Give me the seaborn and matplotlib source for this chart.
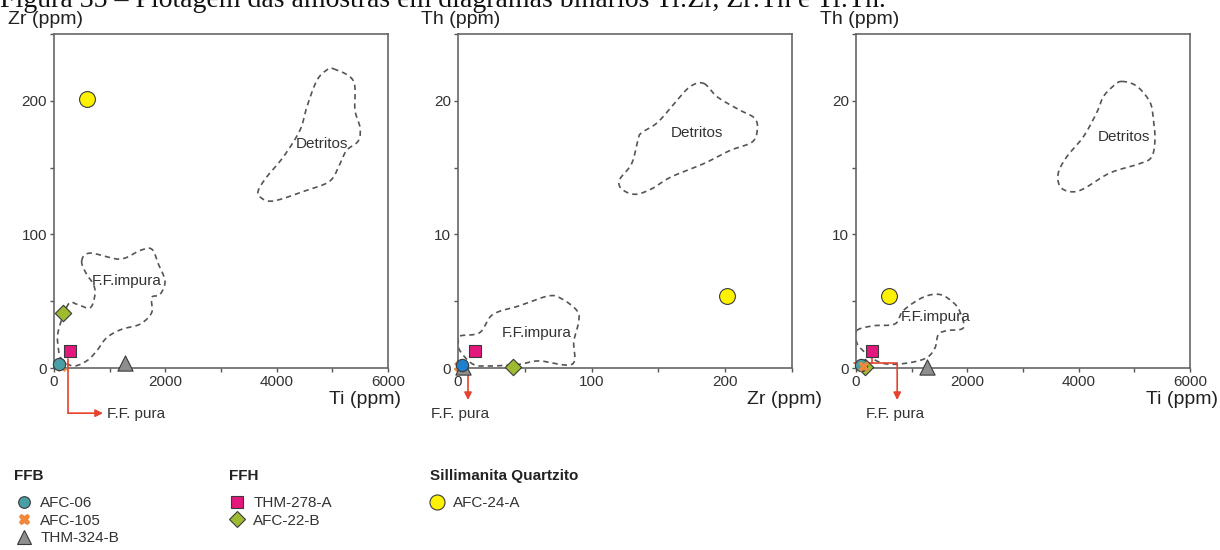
import numpy as np
import pandas as pd
import matplotlib
matplotlib.use("Agg")
import matplotlib.pyplot as plt
import seaborn as sns

# ---------------------------------------------------------------- data
samples = ["AFC-06", "AFC-105", "THM-324-B", "THM-278-A", "AFC-22-B", "AFC-24-A"]
groups = ["FFB", "FFB", "FFB", "FFH", "FFH", "Sillimanita Quartzito"]
ti_ppm = [90, 140, 1280, 290, 160, 600]
zr_ppm = [3, 1, 4, 13, 41, 201]
th_ppm = [0.2, 0.1, 0.1, 1.3, 0.1, 5.4]

# field outlines (x, y) in the units of each diagram
detritos_ti_zr = [(5018, 224), (5377, 215), (5407, 193), (5497, 180), (5467, 170),
                  (5258, 163), (5138, 153), (4958, 140), (4539, 133), (3940, 125),
                  (3701, 128), (3671, 133), (3821, 143), (4120, 158), (4419, 178),
                  (4539, 195), (4719, 215), (4898, 223)]
impura_ti_zr = [(497, 80), (647, 86), (1185, 81.5), (1545, 88), (1755, 89), (1873, 78),
                (1994, 65), (1904, 55), (1755, 52.7), (1755, 41.5), (1545, 32.8),
                (1216, 29), (947, 22.7), (767, 12.8), (587, 5.3), (347, 1.5),
                (138, 6.5), (77, 15), (77, 27.7), (257, 47.8), (408, 47.8),
                (647, 45), (736, 55), (706, 62.8), (587, 70)]
detritos_zr_th = [(184, 21.3), (194, 20.3), (209, 19.4), (222, 18.7), (224, 17.8),
                  (220, 16.9), (204, 16.3), (184, 15.3), (159.5, 14.3), (144.7, 13.4),
                  (132.4, 13.0), (122.5, 13.4), (121, 14.1), (130, 15.3), (134.8, 17.1),
                  (137.3, 17.6), (149.6, 18.4), (164.4, 20.1), (174.3, 21.1)]
impura_zr_th = [(1.5, 2.4), (16.3, 2.65), (26, 4.0), (46, 4.66), (68, 5.4), (78, 5.16),
                (89, 4.3), (90.4, 3.5), (86.7, 2.0), (85.4, 0.28), (60.7, 0.53),
                (46, 0.28), (23.7, 0.15), (11.3, 0.28), (1.5, 1.28), (0.2, 2.0)]
detritos_ti_th = [(4773, 21.45), (5042, 21.1), (5281, 19.9), (5341, 18.6), (5371, 17.1),
                  (5311, 15.8), (5101, 15.3), (4562, 14.6), (4083, 13.4), (3843, 13.2),
                  (3664, 13.6), (3634, 14.6), (3784, 15.8), (4083, 17.3), (4323, 19.1),
                  (4442, 20.3), (4622, 21.1)]
impura_ti_th = [(13, 2.8), (311, 3.16), (700, 3.3), (850, 4.3), (1209, 5.3), (1509, 5.5),
                (1748, 4.9), (1868, 4.2), (1927, 3.0), (1629, 2.8), (1479, 2.5),
                (1419, 1.5), (1270, 0.77), (970, 0.4), (611, 0.28), (371, 0.53),
                (131, 1.28), (13, 1.9)]

df = pd.DataFrame({"amostra": samples, "grupo": groups,
                   "Ti": ti_ppm, "Zr": zr_ppm, "Th": th_ppm})

# ---------------------------------------------------------------- style
sns.set_theme(style="white")
plt.rcParams["font.family"] = ["Liberation Sans", "DejaVu Sans"]

marker_style = {
    "AFC-06":    dict(marker="o", color="#4a9ea6", s=78),
    "AFC-105":   dict(marker="X", color="#f0883a", s=60),
    "THM-324-B": dict(marker="^", color="#8e8e8e", s=120),
    "THM-278-A": dict(marker="s", color="#e3177c", s=85),
    "AFC-22-B":  dict(marker="D", color="#9dbb30", s=70),
    "AFC-24-A":  dict(marker="o", color="#fff200", s=130),
}
order_below = ["AFC-105", "THM-324-B", "AFC-22-B", "THM-278-A", "AFC-06", "AFC-24-A"]
order_above = ["THM-324-B", "AFC-22-B", "THM-278-A", "AFC-06", "AFC-105", "AFC-24-A"]
RED = "#e5432d"
OUTLINE = "#555555"

W, H = 1220, 550
fig = plt.figure(figsize=(W / 100, H / 100), dpi=100)


def fx(px):
    return px / W


def fy(py):
    return 1 - py / H


def closed_curve(points, n=16):
    """Closed Catmull-Rom curve through the outline vertices."""
    p = np.asarray(points, dtype=float)
    m = len(p)
    t = np.linspace(0, 1, n, endpoint=False)[:, None]
    segs = []
    for i in range(m):
        p0, p1, p2, p3 = p[i - 1], p[i], p[(i + 1) % m], p[(i + 2) % m]
        segs.append(0.5 * (2 * p1 + (-p0 + p2) * t
                           + (2 * p0 - 5 * p1 + 4 * p2 - p3) * t ** 2
                           + (-p0 + 3 * p1 - 3 * p2 + p3) * t ** 3))
    c = np.vstack(segs + [segs[0][:1]])
    return c[:, 0], c[:, 1]


panels = [
    dict(x="Ti", y="Zr", left=54, xlim=(0, 6000), ylim=(0, 250),
         xt=range(0, 6001, 1000), xl=["0", "", "2000", "", "4000", "", "6000"],
         yt=range(0, 251, 50), yl=["0", "", "100", "", "200", ""],
         det=detritos_ti_zr, imp=impura_ti_zr,
         det_txt=(4822, 168), imp_txt=(1305, 65),
         ylab="Zr (ppm)", ylab_px=8, xlab="Ti (ppm)", xlab_px=401, fill={},
         order=order_below),
    dict(x="Zr", y="Th", left=458, xlim=(0, 250), ylim=(0, 25),
         xt=range(0, 251, 50), xl=["0", "", "100", "", "200", ""],
         yt=range(0, 26, 5), yl=["0", "", "10", "", "20", ""],
         det=detritos_zr_th, imp=impura_zr_th,
         det_txt=(179, 17.6), imp_txt=(58.8, 2.65),
         ylab="Th (ppm)", ylab_px=421, xlab="Zr (ppm)", xlab_px=822,
         fill={"AFC-06": "#1f7fcb"}, order=order_below),
    dict(x="Ti", y="Th", left=856, xlim=(0, 6000), ylim=(0, 25),
         xt=range(0, 6001, 1000), xl=["0", "", "2000", "", "4000", "", "6000"],
         yt=range(0, 26, 5), yl=["0", "", "10", "", "20", ""],
         det=detritos_ti_th, imp=impura_ti_th,
         det_txt=(4813, 17.3), imp_txt=(1437, 3.8),
         ylab="Th (ppm)", ylab_px=820, xlab="Ti (ppm)", xlab_px=1218, fill={},
         order=order_above),
]

axes = []
for p in panels:
    ax = fig.add_axes([fx(p["left"]), fy(368), fx(334), (368 - 34) / H])
    axes.append(ax)
    ax.set_xlim(*p["xlim"])
    ax.set_ylim(*p["ylim"])

    for name in p["order"]:
        row = df[df["amostra"] == name]
        st = marker_style[name]
        sns.scatterplot(data=row, x=p["x"], y=p["y"], ax=ax, legend=False,
                        marker=st["marker"], color=p["fill"].get(name, st["color"]),
                        s=st["s"], edgecolor="#3a3a3a" if st["marker"] != "X" else "none",
                        linewidth=0.8, zorder=5, clip_on=False)

    for outline in (p["det"], p["imp"]):
        cx, cy = closed_curve(outline)
        ax.plot(cx, cy, color=OUTLINE, lw=1.2, dashes=(3.2, 2.4), zorder=2)
    ax.text(*p["det_txt"], "Detritos", ha="center", va="center",
            fontsize=11, color="#333333", zorder=3)
    ax.text(*p["imp_txt"], "F.F.impura", ha="center", va="center",
            fontsize=11, color="#333333", zorder=3)

    ax.set_xticks(list(p["xt"]))
    ax.set_xticklabels(p["xl"])
    ax.set_yticks(list(p["yt"]))
    ax.set_yticklabels(p["yl"])
    ax.set_xlabel("")
    ax.set_ylabel("")
    ax.tick_params(direction="out", length=3, width=1, color="#555555",
                   labelsize=11, labelcolor="#333333", pad=2,
                   bottom=True, left=True)
    for sp in ax.spines.values():
        sp.set_color("#666666")
        sp.set_linewidth(1.2)

    fig.text(fx(p["ylab_px"]), fy(20), p["ylab"], ha="left", va="center",
             fontsize=14, color="#222222")
    fig.text(fx(p["xlab_px"]), fy(400), p["xlab"], ha="right", va="center",
             fontsize=14, color="#222222")

# "F.F. pura" pointers
arrow = dict(arrowstyle="-|>", color=RED, lw=1.2, shrinkA=0, shrinkB=0,
             mutation_scale=11)
a1, a2, a3 = axes
a1.plot([250, 250], [7, -33.8], color=RED, lw=1.2, clip_on=False, zorder=4)
a1.annotate("", xy=(880, -33.8), xytext=(250, -33.8), arrowprops=arrow,
            annotation_clip=False)
a1.text(960, -34.3, "F.F. pura", ha="left", va="center", fontsize=11,
        color="#333333", clip_on=False)

a2.annotate("", xy=(7.5, -2.4), xytext=(7.5, -0.2), arrowprops=arrow,
            annotation_clip=False)
a2.text(1.5, -3.45, "F.F. pura", ha="center", va="center", fontsize=11,
        color="#333333", clip_on=False)

a3.plot([290, 290], [0.9, 0.35], color=RED, lw=1.2, clip_on=False, zorder=4)
a3.plot([-40, 740], [0.35, 0.35], color=RED, lw=1.2, clip_on=False, zorder=4)
a3.annotate("", xy=(740, -2.4), xytext=(740, 0.35), arrowprops=arrow,
            annotation_clip=False)
a3.text(700, -3.45, "F.F. pura", ha="center", va="center", fontsize=11,
        color="#333333", clip_on=False)

# sample legend, one block per group: (title x, entry block x) in pixels
legend_cols = {"FFB": (14, 16), "FFH": (229, 229), "Sillimanita Quartzito": (430, 429)}
for grp, (tx, bx) in legend_cols.items():
    fig.text(fx(tx), fy(476), grp, ha="left", va="center", fontsize=11,
             fontweight="bold", color="#222222")
    names = df.loc[df["grupo"] == grp, "amostra"].tolist()
    handles = []
    for name in names:
        st = marker_style[name]
        handles.append(plt.Line2D([], [], ls="none", marker=st["marker"],
                                  markerfacecolor=st["color"],
                                  markeredgecolor="#3a3a3a" if st["marker"] != "X" else st["color"],
                                  markeredgewidth=0.8,
                                  markersize=np.sqrt(st["s"]) * 0.95))
    fig.legend(handles, names, loc="upper left",
               bbox_to_anchor=(fx(bx), fy(496)), frameon=False,
               fontsize=11, handlelength=1.0, handletextpad=0.6,
               labelspacing=0.24, borderpad=0, borderaxespad=0,
               labelcolor="#333333")

# figure caption
fig.text(0.0, fy(7), "Figura 35 \u2013 Plotagem das amostras em diagramas bin\u00e1rios Ti:Zr, Zr:Th e Ti:Th.",
         ha="left", va="baseline", fontsize=20, family="Liberation Serif",
         color="#111111")

fig.savefig("out.png", dpi=100, facecolor="white")
